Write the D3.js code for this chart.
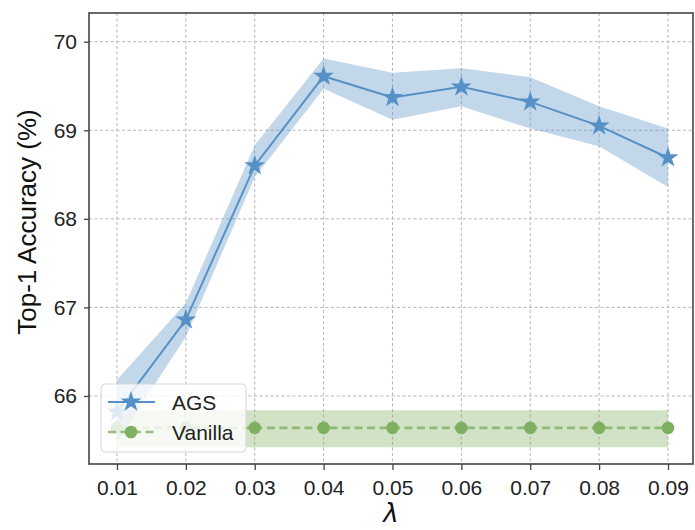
<!DOCTYPE html>
<html>
<head>
<meta charset="utf-8">
<script src="https://cdn.jsdelivr.net/npm/d3@7"></script>
<style>
  html, body { margin: 0; padding: 0; background: #fff; }
  svg { display: block; }
</style>
</head>
<body>
<svg id="chart" width="695" height="530"></svg>
<script>
// λ values on the x axis
const lambdas = [0.01, 0.02, 0.03, 0.04, 0.05, 0.06, 0.07, 0.08, 0.09];

// AGS: mean top-1 accuracy and its shaded range
const agsMean  = [65.82, 66.86, 68.60, 69.61, 69.37, 69.49, 69.32, 69.05, 68.69];
const agsUpper = [66.18, 67.05, 68.83, 69.81, 69.65, 69.70, 69.60, 69.27, 69.02];
const agsLower = [65.48, 66.67, 68.47, 69.47, 69.12, 69.27, 69.02, 68.82, 68.36];

// Vanilla baseline: mean and shaded range
const vanillaMean  = [65.64, 65.64, 65.64, 65.64, 65.64, 65.64, 65.64, 65.64, 65.64];
const vanillaUpper = [65.84, 65.84, 65.84, 65.84, 65.84, 65.84, 65.84, 65.84, 65.84];
const vanillaLower = [65.42, 65.42, 65.42, 65.42, 65.42, 65.42, 65.42, 65.42, 65.42];

// Tick values
const xTicks = [0.01, 0.02, 0.03, 0.04, 0.05, 0.06, 0.07, 0.08, 0.09];
const yTicks = [66, 67, 68, 69, 70];

const seriesNames = ["AGS", "Vanilla"];

const svg = d3.select("#chart");
const box = { left: 89, right: 693, top: 13, bottom: 464 };

const x = d3.scaleLinear().domain([0.00594, 0.09363]).range([box.left, box.right]);
const y = d3.scaleLinear().domain([65.232, 70.324]).range([box.bottom, box.top]);

const agsColor = "#5590c6";
const vanColor = "#7fb061";
const tickFont = "'Liberation Sans', Arial, Helvetica, sans-serif";

// Grid
const grid = svg.append("g").attr("class", "grid");
grid.selectAll("line.gx").data(xTicks).join("line")
  .attr("x1", d => x(d)).attr("x2", d => x(d))
  .attr("y1", box.top).attr("y2", box.bottom)
  .attr("stroke", "#b5b5b5").attr("stroke-width", 1).attr("stroke-dasharray", "3,2.5");
grid.selectAll("line.gy").data(yTicks).join("line")
  .attr("x1", box.left).attr("x2", box.right)
  .attr("y1", d => y(d)).attr("y2", d => y(d))
  .attr("stroke", "#b5b5b5").attr("stroke-width", 1).attr("stroke-dasharray", "3,2.5");

// Shaded ranges
const area = (lo, hi) => d3.area()
  .x((d, i) => x(lambdas[i]))
  .y0((d, i) => y(lo[i]))
  .y1((d, i) => y(hi[i]));

svg.append("path").datum(lambdas)
  .attr("d", area(vanillaLower, vanillaUpper))
  .attr("fill", vanColor).attr("fill-opacity", 0.36);
svg.append("path").datum(lambdas)
  .attr("d", area(agsLower, agsUpper))
  .attr("fill", agsColor).attr("fill-opacity", 0.36);

// Lines
const line = vals => d3.line().x((d, i) => x(lambdas[i])).y((d, i) => y(vals[i]));

svg.append("path").datum(lambdas)
  .attr("d", line(vanillaMean))
  .attr("fill", "none").attr("stroke", vanColor).attr("stroke-width", 2.6)
  .attr("stroke-dasharray", "8,4.5").attr("stroke-opacity", 0.8);
svg.append("path").datum(lambdas)
  .attr("d", line(agsMean))
  .attr("fill", "none").attr("stroke", agsColor).attr("stroke-width", 2);

// Markers
const star = d3.symbol().type(d3.symbolStar).size(135);
svg.selectAll("circle.van").data(lambdas).join("circle")
  .attr("cx", d => x(d)).attr("cy", (d, i) => y(vanillaMean[i]))
  .attr("r", 6.3).attr("fill", vanColor);
svg.selectAll("path.ags").data(lambdas).join("path")
  .attr("d", star)
  .attr("transform", (d, i) => `translate(${x(d)},${y(agsMean[i])})`)
  .attr("fill", agsColor);

// Axes
const xAxis = d3.axisBottom(x).tickValues(xTicks).tickFormat(d3.format(".2f"))
  .tickSize(6).tickPadding(10);
const yAxis = d3.axisLeft(y).tickValues(yTicks).tickFormat(d3.format("d"))
  .tickSize(5).tickPadding(7);

const gx = svg.append("g").attr("transform", `translate(0,${box.bottom})`).call(xAxis);
const gy = svg.append("g").attr("transform", `translate(${box.left},0)`).call(yAxis);
[gx, gy].forEach(g => {
  g.select(".domain").remove();
  g.selectAll(".tick line").attr("stroke", "#444").attr("stroke-width", 1.3);
  g.selectAll(".tick text").attr("fill", "#222")
    .style("font-family", tickFont).style("font-size", "21px");
});

// Legend
const legend = svg.append("g").attr("transform", "translate(101,384)");
legend.append("rect")
  .attr("width", 145).attr("height", 68).attr("rx", 4)
  .attr("fill", "#fff").attr("fill-opacity", 0.8)
  .attr("stroke", "#d6d6d6").attr("stroke-width", 1);
const rows = legend.selectAll("g.row").data(seriesNames).join("g")
  .attr("transform", (d, i) => `translate(0,${18 + i * 30})`);
rows.append("line")
  .attr("x1", 7).attr("x2", 54).attr("y1", 0).attr("y2", 0)
  .attr("stroke", (d, i) => i === 0 ? agsColor : vanColor)
  .attr("stroke-width", (d, i) => i === 0 ? 2 : 2.6)
  .attr("stroke-dasharray", (d, i) => i === 0 ? null : "8,4.5")
  .attr("stroke-opacity", (d, i) => i === 0 ? 1 : 0.8);
rows.each(function (d, i) {
  const g = d3.select(this);
  if (i === 0) {
    g.append("path").attr("d", star).attr("transform", "translate(30,0)").attr("fill", agsColor);
  } else {
    g.append("circle").attr("cx", 30).attr("cy", 0).attr("r", 6.3).attr("fill", vanColor);
  }
});
rows.append("text")
  .attr("x", 71).attr("y", 0).attr("dy", "0.36em")
  .attr("fill", "#222")
  .style("font-family", tickFont).style("font-size", "21px")
  .text(d => d);

// Frame
svg.append("rect")
  .attr("x", box.left).attr("y", box.top)
  .attr("width", box.right - box.left).attr("height", box.bottom - box.top)
  .attr("fill", "none").attr("stroke", "#444").attr("stroke-width", 1.6);

// Axis titles
svg.append("text")
  .attr("transform", "translate(36,222) rotate(-90)")
  .attr("text-anchor", "middle")
  .attr("fill", "#111")
  .style("font-family", tickFont).style("font-size", "26px")
  .text("Top-1 Accuracy (%)");
svg.append("text")
  .attr("x", 391).attr("y", 522)
  .attr("text-anchor", "middle")
  .attr("fill", "#111")
  .style("font-family", "'DejaVu Sans', sans-serif").style("font-style", "italic")
  .style("font-size", "26px")
  .text("λ");
</script>
</body>
</html>
